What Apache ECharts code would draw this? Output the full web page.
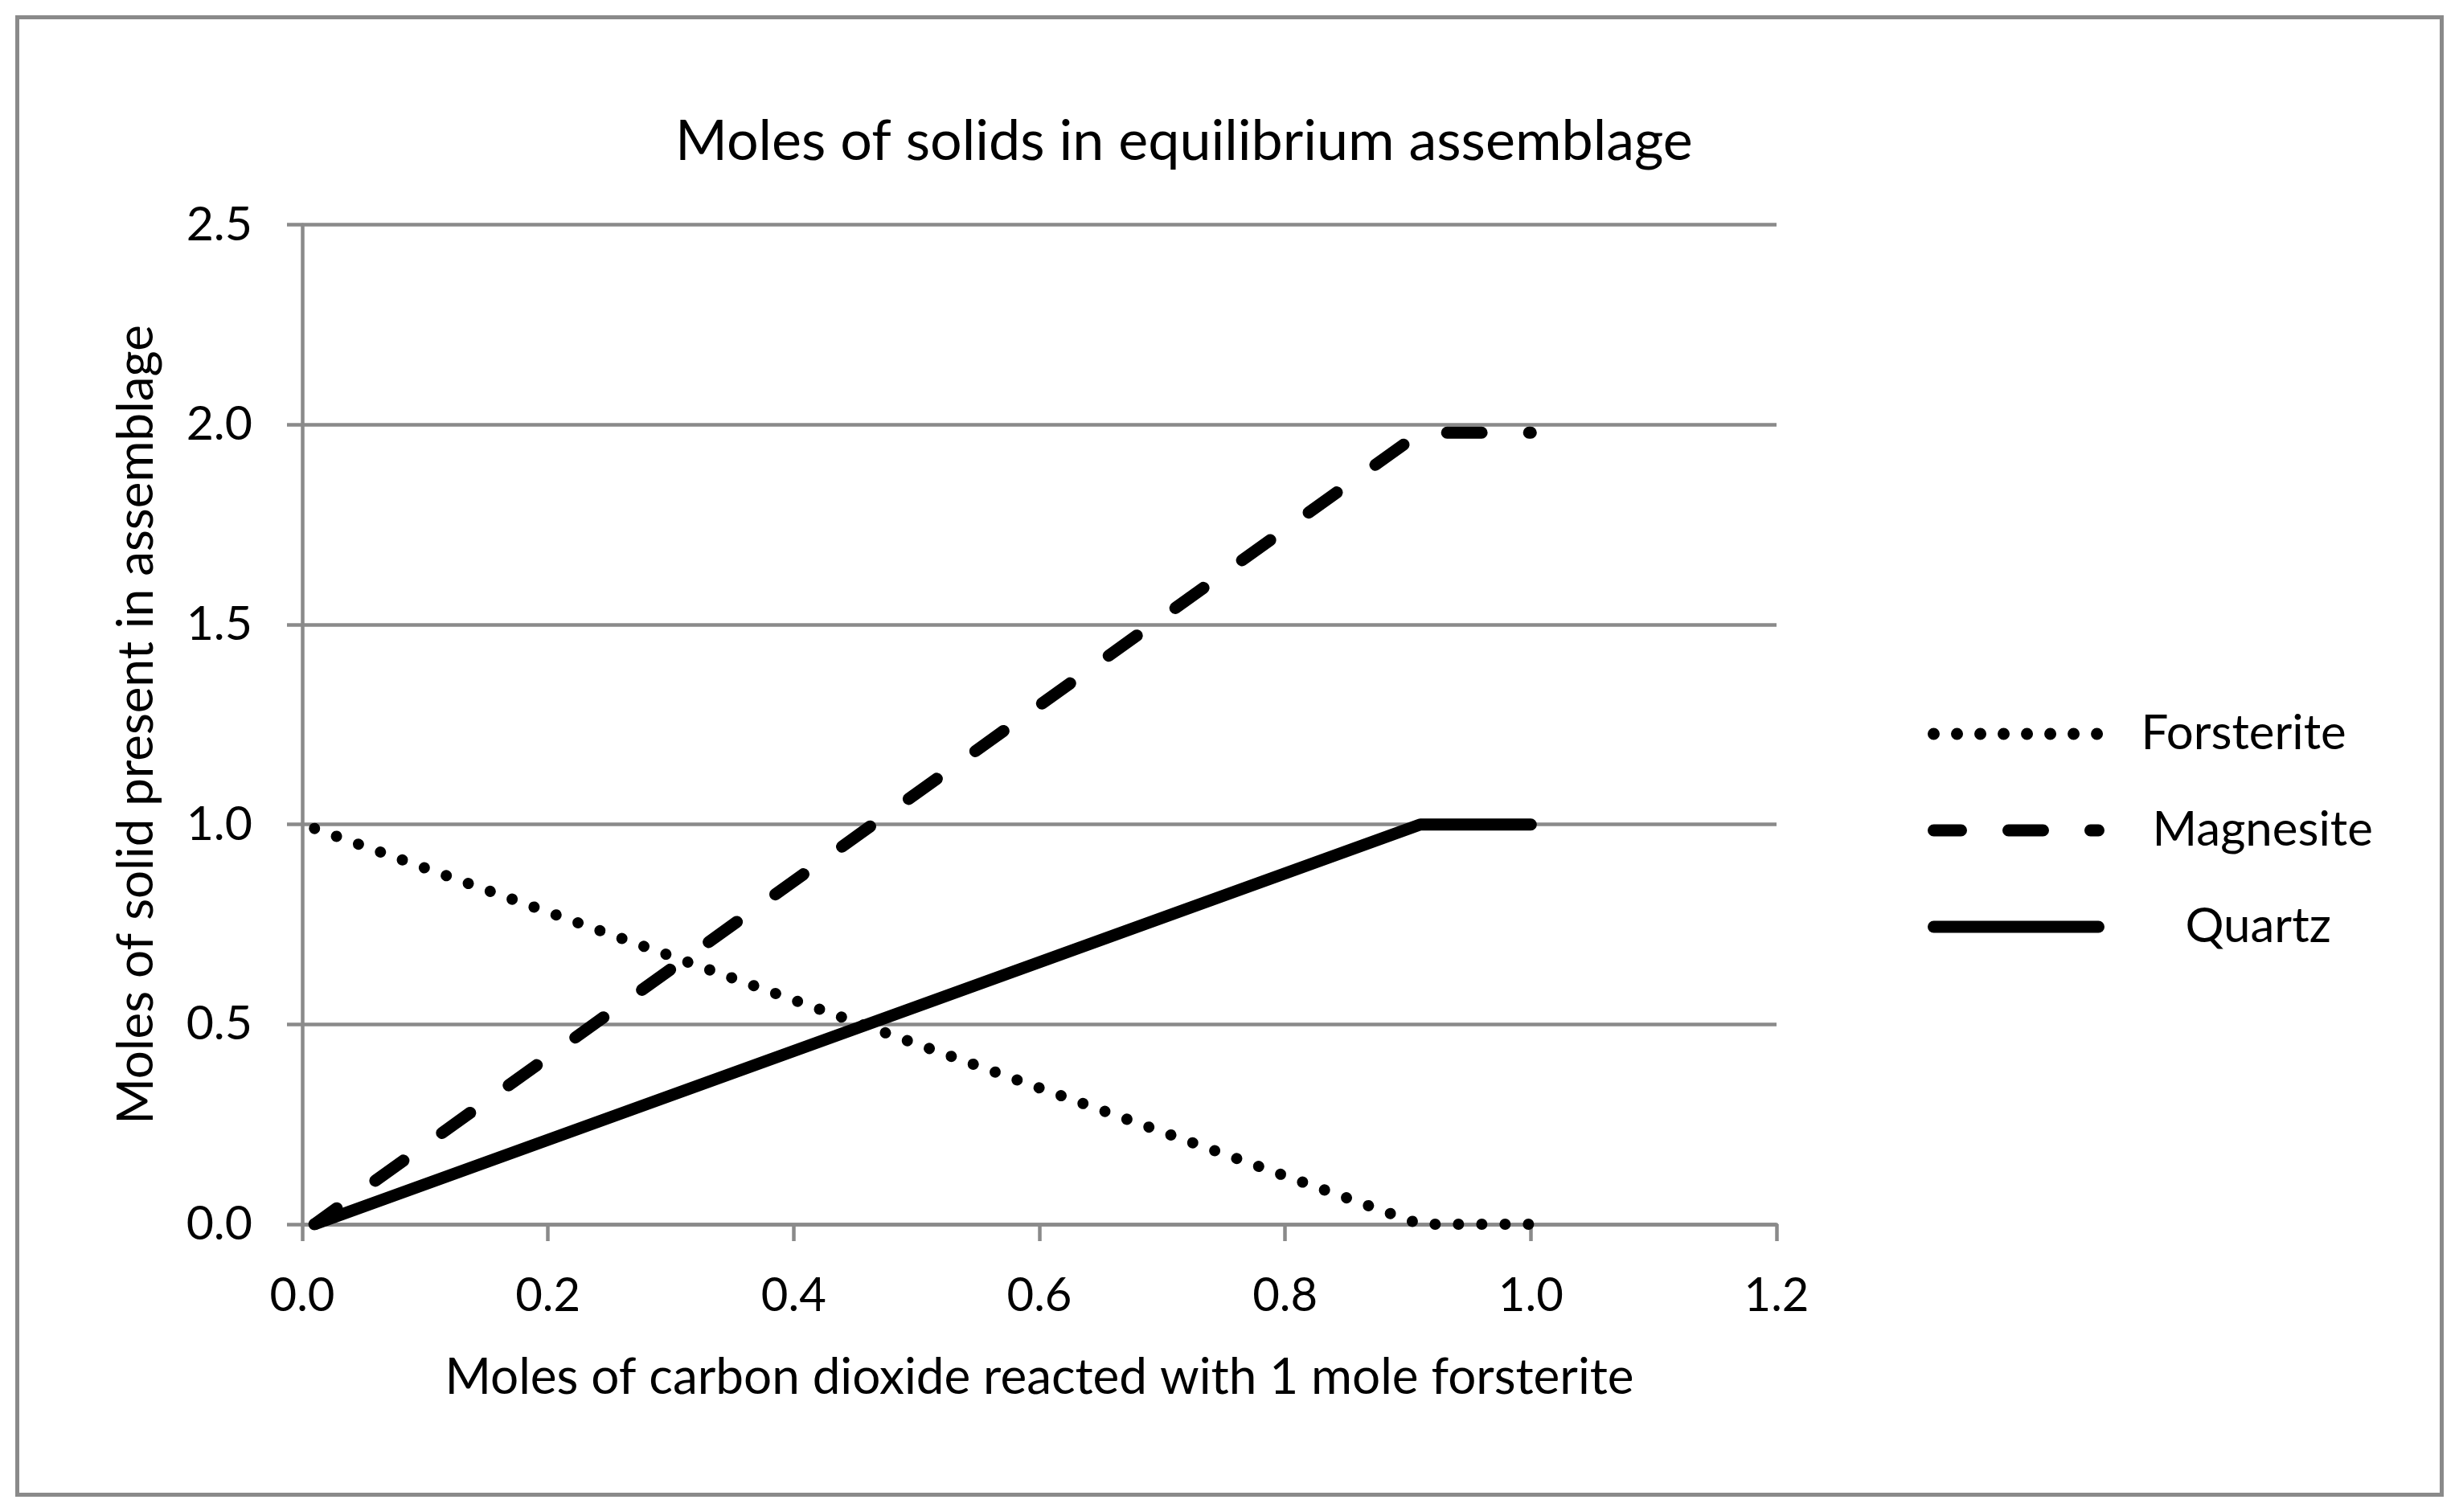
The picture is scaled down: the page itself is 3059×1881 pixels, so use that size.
<!DOCTYPE html>
<html>
<head>
<meta charset="utf-8">
<script src="https://cdn.jsdelivr.net/npm/echarts@6/dist/echarts.min.js"></script>
<style>
html,body{margin:0;padding:0;background:#fff;}
#chart{width:3059px;height:1881px;}
</style>
</head>
<body>
<div id="chart"></div>
<script>
// ---- data ----
const co2Reacted = [0.01, 0.91, 1.0];
const forsterite = [0.99, 0.0, 0.0];
const magnesite  = [0.0, 1.98, 1.98];
const quartz     = [0.0, 1.0, 1.0];
const xTicks = [0.0, 0.2, 0.4, 0.6, 0.8, 1.0, 1.2];
const yTicks = [0.0, 0.5, 1.0, 1.5, 2.0, 2.5];
const seriesNames = ['Forsterite', 'Magnesite', 'Quartz'];

const FONT = 'Lato';
const GRID = '#8a8a8a';
const pairs = (ys) => co2Reacted.map((x, i) => [x, ys[i]]);

const chart = echarts.init(document.getElementById('chart'), null, {renderer: 'canvas'});
chart.setOption({
  backgroundColor: '#ffffff',
  animation: false,
  title: {
    text: 'Moles of solids in equilibrium assemblage',
    left: 840,
    top: 141,
    padding: 0,
    textStyle: {fontFamily: FONT, fontSize: 70, fontWeight: 'normal', color: '#000'}
  },
  graphic: [{
    type: 'rect',
    shape: {x: 21.5, y: 21.5, width: 3016, height: 1838},
    style: {fill: null, stroke: GRID, lineWidth: 5},
    silent: true
  }],
  grid: {left: 376, right: 849, top: 279.7, bottom: 358, containLabel: false},
  legend: {
    orient: 'vertical',
    left: 2398,
    top: 883,
    padding: 0,
    itemWidth: 205,
    itemHeight: 60,
    itemGap: 60,
    data: seriesNames,
    itemStyle: {opacity: 0},
    lineStyle: {width: 15},
    formatter: function (name) {
      const key = {Forsterite: 'f', Magnesite: 'm', Quartz: 'q'}[name];
      return '{' + key + '|' + name + '}';
    },
    textStyle: {
      fontFamily: FONT, fontSize: 60, color: '#000',
      rich: {
        f: {fontFamily: FONT, fontSize: 60, color: '#000', padding: [0, 0, 0, 48]},
        m: {fontFamily: FONT, fontSize: 60, color: '#000', padding: [0, 0, 0, 62]},
        q: {fontFamily: FONT, fontSize: 60, color: '#000', padding: [0, 0, 0, 103]}
      }
    }
  },
  xAxis: {
    type: 'value',
    min: xTicks[0],
    max: xTicks[xTicks.length - 1],
    interval: 0.2,
    name: 'Moles of carbon dioxide reacted with 1 mole forsterite',
    nameLocation: 'middle',
    nameGap: 160,
    nameTextStyle: {fontFamily: FONT, fontSize: 62, color: '#000'},
    axisLine: {show: true, lineStyle: {color: GRID, width: 4.5}},
    axisTick: {show: true, inside: false, length: 21, lineStyle: {color: GRID, width: 4.5}},
    axisLabel: {
      margin: 60, fontFamily: FONT, fontSize: 58, color: '#000',
      formatter: (v) => v.toFixed(1)
    },
    splitLine: {show: false}
  },
  yAxis: {
    type: 'value',
    min: yTicks[0],
    max: yTicks[yTicks.length - 1],
    interval: 0.5,
    name: 'Moles of solid present in assemblage',
    nameLocation: 'middle',
    nameGap: 175,
    nameTextStyle: {fontFamily: FONT, fontSize: 62, color: '#000'},
    axisLine: {show: true, lineStyle: {color: GRID, width: 4.5}},
    axisTick: {show: true, inside: false, length: 19, lineStyle: {color: GRID, width: 4.5}},
    axisLabel: {
      margin: 62, fontFamily: FONT, fontSize: 59, color: '#000',
      formatter: (v) => v.toFixed(1)
    },
    splitLine: {show: true, lineStyle: {color: GRID, width: 4.5}}
  },
  series: [
    {
      name: seriesNames[0], type: 'line', data: pairs(forsterite),
      symbol: 'none', showSymbol: false, z: 3,
      lineStyle: {color: '#000', width: 14, type: [0.01, 29], cap: 'round', join: 'round'}
    },
    {
      name: seriesNames[1], type: 'line', data: pairs(magnesite),
      symbol: 'none', showSymbol: false, z: 4,
      lineStyle: {color: '#000', width: 15, type: [43, 59], dashOffset: 9, cap: 'round', join: 'round'}
    },
    {
      name: seriesNames[2], type: 'line', data: pairs(quartz),
      symbol: 'none', showSymbol: false, z: 5,
      lineStyle: {color: '#000', width: 15, type: 'solid', cap: 'round', join: 'round'}
    }
  ]
});
</script>
</body>
</html>
